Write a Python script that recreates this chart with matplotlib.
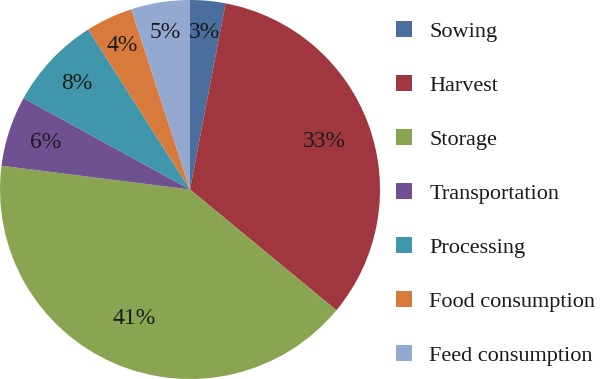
import numpy as np
import matplotlib
matplotlib.use('Agg')
import matplotlib.pyplot as plt
from matplotlib import rc

rc('font', family='Liberation Serif', size=16)

# data
stages = ['Sowing', 'Harvest', 'Storage', 'Transportation', 'Processing',
          'Food consumption', 'Feed consumption']
shares = [3, 33, 41, 6, 8, 4, 5]
colors = ['#4a6f9f', '#a0373f', '#8aa552', '#6f5090', '#4096aa', '#d87a3c', '#93a9cf']
# radial position of each percent label (fraction of radius)
lbl_dist = [0.83, 0.75, 0.74, 0.80, 0.82, 0.84, 0.84]

fig = plt.figure(figsize=(6, 3.79), dpi=100)
ax = fig.add_axes([0, 0, 380/600., 1])
wedges, texts, autotexts = ax.pie(shares, colors=colors, startangle=90, counterclock=False,
                                  autopct='%d%%', pctdistance=0.74, radius=1.0,
                                  wedgeprops={'linewidth': 0},
                                  textprops={'fontsize': 17, 'color': '#1a1a1a'})
# push the small-slice labels outward like the original
for w, t, d in zip(wedges, autotexts, lbl_dist):
    ang = np.deg2rad((w.theta1 + w.theta2) / 2.)
    t.set_position((d*np.cos(ang), d*np.sin(ang)))
ax.set_xlim(-1.0, 1.0)
ax.set_ylim(-1.0, 1.0)
ax.set_aspect('auto')
ax.axis('off')

leg = fig.legend(wedges, stages, loc='upper left', bbox_to_anchor=(396/600., 1 - 21/379.),
                 frameon=False, fontsize=16, handlelength=0.72, handleheight=0.72,
                 handletextpad=0.78, labelspacing=1.5, borderpad=0, borderaxespad=0)
for t in leg.get_texts():
    t.set_color('#1a1a1a')

plt.savefig('out.png', dpi=100)
